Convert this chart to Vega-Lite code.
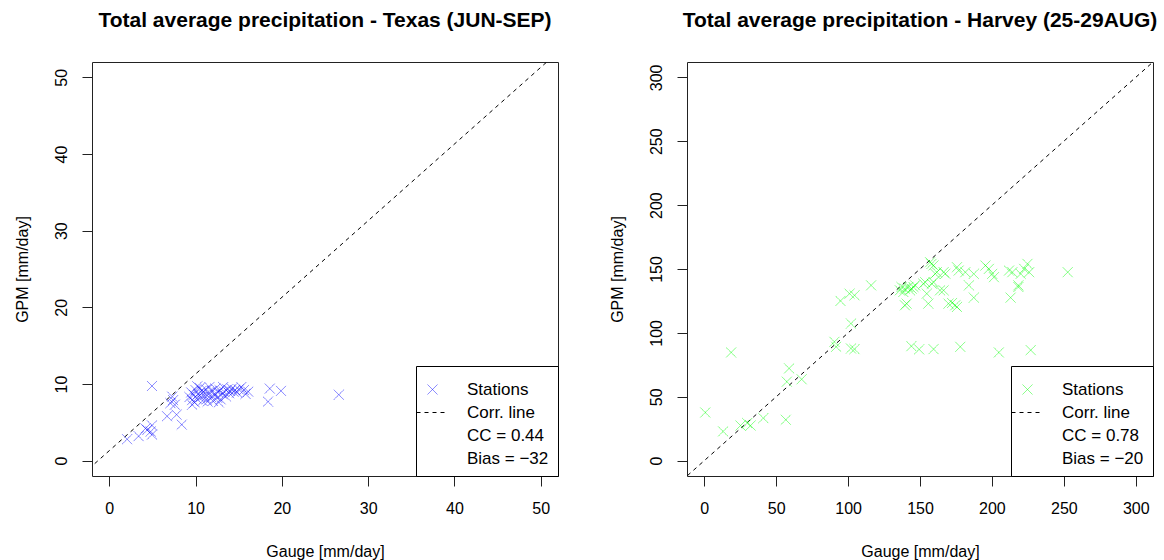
{
  "$schema": "https://vega.github.io/schema/vega-lite/v6.json",
  "background": "white",
  "padding": {"left": 13, "top": 9, "right": 5, "bottom": 5},
  "bounds": "flush",
  "spacing": 129,
  "config": {
    "font": "Liberation Sans",
    "view": {"stroke": "#222222", "strokeWidth": 1},
    "axis": {"grid": false, "domain": false, "tickColor": "#222222", "tickSize": 10, "labelFont": "Liberation Sans", "labelFontSize": 16, "labelColor": "black", "titleFont": "Liberation Sans", "titleFontSize": 16, "titleFontWeight": "normal", "titleColor": "black", "labelOverlap": false, "labelFlush": false},
    "axisY": {"labelAngle": -90, "labelAlign": "center", "labelBaseline": "bottom", "labelPadding": 13, "titlePadding": 23},
    "axisX": {"labelPadding": 14, "titlePadding": 27},
    "legend": {"orient": "bottom-right", "offset": 0, "strokeColor": "black", "fillColor": "white", "padding": 9, "labelFont": "Liberation Sans", "labelFontSize": 17, "labelColor": "black", "symbolSize": 100, "symbolStrokeWidth": 1, "labelOffset": 26, "symbolOffset": -1, "rowPadding": 5, "cornerRadius": 0, "titleFontSize": 4, "titlePadding": 2},
    "title": {"font": "Liberation Sans", "fontSize": 21, "fontWeight": "bold", "color": "black", "offset": 31}
  },
  "resolve": {"scale": {"color": "independent", "shape": "independent", "strokeDash": "independent"}, "legend": {"color": "independent", "shape": "independent", "strokeDash": "independent"}},
  "hconcat": [
    {
      "title": "Total average precipitation - Texas (JUN-SEP)",
      "width": 466,
      "height": 414,
      "layer": [
        {
          "data": {"values": [{"gauge": -10, "gpm": -8.7}, {"gauge": 60, "gpm": 61.3}]},
          "mark": {"type": "line", "color": "black", "strokeWidth": 1, "strokeDash": [4, 4], "clip": true},
          "encoding": {
            "x": {"field": "gauge", "type": "quantitative"},
            "y": {"field": "gpm", "type": "quantitative"}
          }
        },
        {
          "data": {"values": [
            {"gauge": 4.95, "gpm": 9.74, "series": "Stations"},
            {"gauge": 2.07, "gpm": 2.8, "series": "Stations"},
            {"gauge": 3.4, "gpm": 3.2, "series": "Stations"},
            {"gauge": 4.4, "gpm": 4.0, "series": "Stations"},
            {"gauge": 4.95, "gpm": 4.6, "series": "Stations"},
            {"gauge": 4.8, "gpm": 3.8, "series": "Stations"},
            {"gauge": 4.95, "gpm": 3.4, "series": "Stations"},
            {"gauge": 4.2, "gpm": 4.2, "series": "Stations"},
            {"gauge": 6.7, "gpm": 5.8, "series": "Stations"},
            {"gauge": 7.8, "gpm": 6.0, "series": "Stations"},
            {"gauge": 8.4, "gpm": 4.7, "series": "Stations"},
            {"gauge": 7.3, "gpm": 8.35, "series": "Stations"},
            {"gauge": 7.4, "gpm": 7.9, "series": "Stations"},
            {"gauge": 7.1, "gpm": 7.5, "series": "Stations"},
            {"gauge": 7.6, "gpm": 7.3, "series": "Stations"},
            {"gauge": 9.6, "gpm": 7.3, "series": "Stations"},
            {"gauge": 18.6, "gpm": 9.4, "series": "Stations"},
            {"gauge": 19.9, "gpm": 9.1, "series": "Stations"},
            {"gauge": 18.4, "gpm": 7.7, "series": "Stations"},
            {"gauge": 26.6, "gpm": 8.6, "series": "Stations"},
            {"gauge": 9.3, "gpm": 8.3, "series": "Stations"},
            {"gauge": 9.5, "gpm": 8.9, "series": "Stations"},
            {"gauge": 9.6, "gpm": 7.9, "series": "Stations"},
            {"gauge": 9.8, "gpm": 8.6, "series": "Stations"},
            {"gauge": 10.0, "gpm": 9.2, "series": "Stations"},
            {"gauge": 10.1, "gpm": 8.1, "series": "Stations"},
            {"gauge": 10.3, "gpm": 8.7, "series": "Stations"},
            {"gauge": 10.5, "gpm": 9.5, "series": "Stations"},
            {"gauge": 10.6, "gpm": 8.3, "series": "Stations"},
            {"gauge": 10.8, "gpm": 7.8, "series": "Stations"},
            {"gauge": 10.9, "gpm": 9.0, "series": "Stations"},
            {"gauge": 11.0, "gpm": 8.5, "series": "Stations"},
            {"gauge": 11.2, "gpm": 9.3, "series": "Stations"},
            {"gauge": 11.3, "gpm": 8.0, "series": "Stations"},
            {"gauge": 11.5, "gpm": 8.8, "series": "Stations"},
            {"gauge": 11.6, "gpm": 9.6, "series": "Stations"},
            {"gauge": 11.8, "gpm": 8.3, "series": "Stations"},
            {"gauge": 11.9, "gpm": 9.1, "series": "Stations"},
            {"gauge": 12.0, "gpm": 7.8, "series": "Stations"},
            {"gauge": 12.2, "gpm": 8.6, "series": "Stations"},
            {"gauge": 12.3, "gpm": 9.4, "series": "Stations"},
            {"gauge": 12.5, "gpm": 8.2, "series": "Stations"},
            {"gauge": 12.6, "gpm": 8.9, "series": "Stations"},
            {"gauge": 12.8, "gpm": 9.2, "series": "Stations"},
            {"gauge": 12.9, "gpm": 8.0, "series": "Stations"},
            {"gauge": 13.1, "gpm": 8.7, "series": "Stations"},
            {"gauge": 13.3, "gpm": 9.0, "series": "Stations"},
            {"gauge": 13.5, "gpm": 8.4, "series": "Stations"},
            {"gauge": 13.7, "gpm": 9.3, "series": "Stations"},
            {"gauge": 13.9, "gpm": 8.8, "series": "Stations"},
            {"gauge": 14.0, "gpm": 9.1, "series": "Stations"},
            {"gauge": 14.2, "gpm": 9.4, "series": "Stations"},
            {"gauge": 14.4, "gpm": 9.0, "series": "Stations"},
            {"gauge": 14.6, "gpm": 9.2, "series": "Stations"},
            {"gauge": 14.8, "gpm": 8.9, "series": "Stations"},
            {"gauge": 15.0, "gpm": 9.3, "series": "Stations"},
            {"gauge": 15.3, "gpm": 9.6, "series": "Stations"},
            {"gauge": 15.6, "gpm": 9.2, "series": "Stations"},
            {"gauge": 15.8, "gpm": 8.7, "series": "Stations"},
            {"gauge": 16.1, "gpm": 9.0, "series": "Stations"},
            {"gauge": 10.2, "gpm": 9.7, "series": "Stations"},
            {"gauge": 11.4, "gpm": 7.7, "series": "Stations"},
            {"gauge": 12.7, "gpm": 7.6, "series": "Stations"},
            {"gauge": 13.2, "gpm": 9.6, "series": "Stations"},
            {"gauge": 9.9, "gpm": 7.6, "series": "Stations"},
            {"gauge": 10.7, "gpm": 9.1, "series": "Stations"}
          ]},
          "mark": {"type": "point", "filled": false, "size": 100, "strokeWidth": 1, "opacity": 1},
          "encoding": {
            "x": {"field": "gauge", "type": "quantitative", "title": "Gauge [mm/day]", "scale": {"domain": [-2, 52], "nice": false, "zero": false}, "axis": {"values": [0, 10, 20, 30, 40, 50]}},
            "y": {"field": "gpm", "type": "quantitative", "title": "GPM [mm/day]", "scale": {"domain": [-2, 52], "nice": false, "zero": false}, "axis": {"values": [0, 10, 20, 30, 40, 50]}},
            "color": {"field": "series", "type": "nominal", "title": " ", "scale": {"domain": ["Stations", "Corr. line", "CC = 0.44", "Bias = −32"], "range": ["rgba(0,0,255,0.5)", "black", "rgba(0,0,0,0)", "rgba(0,0,0,0)"]}},
            "shape": {"field": "series", "type": "nominal", "title": " ", "scale": {"domain": ["Stations", "Corr. line", "CC = 0.44", "Bias = −32"], "range": ["M-1,-1L1,1M-1,1L1,-1", "M-3.2,0L3.2,0", "M0,0", "M0,0"]}},
            "strokeDash": {"field": "series", "type": "nominal", "title": " ", "scale": {"domain": ["Stations", "Corr. line", "CC = 0.44", "Bias = −32"], "range": [[1, 0], [4, 4], [1, 0], [1, 0]]}}
          }
        }
      ]
    },
    {
      "title": "Total average precipitation - Harvey (25-29AUG)",
      "width": 466,
      "height": 414,
      "layer": [
        {
          "data": {"values": [{"gauge": -20, "gpm": -20}, {"gauge": 330, "gpm": 330}]},
          "mark": {"type": "line", "color": "black", "strokeWidth": 1, "strokeDash": [4, 4], "clip": true},
          "encoding": {
            "x": {"field": "gauge", "type": "quantitative"},
            "y": {"field": "gpm", "type": "quantitative"}
          }
        },
        {
          "data": {"values": [
            {"gauge": 0.7, "gpm": 37.7, "series": "Stations"},
            {"gauge": 13.1, "gpm": 22.9, "series": "Stations"},
            {"gauge": 25.2, "gpm": 27.5, "series": "Stations"},
            {"gauge": 29.9, "gpm": 29.4, "series": "Stations"},
            {"gauge": 32.2, "gpm": 27.5, "series": "Stations"},
            {"gauge": 41.1, "gpm": 33.3, "series": "Stations"},
            {"gauge": 56.7, "gpm": 32.0, "series": "Stations"},
            {"gauge": 18.7, "gpm": 84.7, "series": "Stations"},
            {"gauge": 59.0, "gpm": 72.2, "series": "Stations"},
            {"gauge": 57.4, "gpm": 61.8, "series": "Stations"},
            {"gauge": 67.7, "gpm": 63.7, "series": "Stations"},
            {"gauge": 90.5, "gpm": 93.0, "series": "Stations"},
            {"gauge": 91.7, "gpm": 89.1, "series": "Stations"},
            {"gauge": 102.0, "gpm": 87.8, "series": "Stations"},
            {"gauge": 104.5, "gpm": 87.3, "series": "Stations"},
            {"gauge": 102.0, "gpm": 107.3, "series": "Stations"},
            {"gauge": 94.7, "gpm": 125.0, "series": "Stations"},
            {"gauge": 101.0, "gpm": 130.7, "series": "Stations"},
            {"gauge": 104.5, "gpm": 129.4, "series": "Stations"},
            {"gauge": 116.0, "gpm": 137.2, "series": "Stations"},
            {"gauge": 144.0, "gpm": 89.6, "series": "Stations"},
            {"gauge": 149.4, "gpm": 87.1, "series": "Stations"},
            {"gauge": 159.4, "gpm": 87.3, "series": "Stations"},
            {"gauge": 178.0, "gpm": 89.1, "series": "Stations"},
            {"gauge": 204.8, "gpm": 84.7, "series": "Stations"},
            {"gauge": 227.0, "gpm": 86.5, "series": "Stations"},
            {"gauge": 137.2, "gpm": 135.9, "series": "Stations"},
            {"gauge": 136.0, "gpm": 133.3, "series": "Stations"},
            {"gauge": 138.4, "gpm": 132.0, "series": "Stations"},
            {"gauge": 139.5, "gpm": 134.6, "series": "Stations"},
            {"gauge": 141.9, "gpm": 135.9, "series": "Stations"},
            {"gauge": 143.0, "gpm": 133.3, "series": "Stations"},
            {"gauge": 144.2, "gpm": 134.6, "series": "Stations"},
            {"gauge": 145.4, "gpm": 135.9, "series": "Stations"},
            {"gauge": 146.6, "gpm": 137.2, "series": "Stations"},
            {"gauge": 152.4, "gpm": 138.5, "series": "Stations"},
            {"gauge": 153.6, "gpm": 139.7, "series": "Stations"},
            {"gauge": 158.2, "gpm": 138.5, "series": "Stations"},
            {"gauge": 159.4, "gpm": 139.7, "series": "Stations"},
            {"gauge": 157.0, "gpm": 155.3, "series": "Stations"},
            {"gauge": 158.0, "gpm": 154.0, "series": "Stations"},
            {"gauge": 159.4, "gpm": 152.8, "series": "Stations"},
            {"gauge": 160.6, "gpm": 146.3, "series": "Stations"},
            {"gauge": 161.7, "gpm": 147.5, "series": "Stations"},
            {"gauge": 166.4, "gpm": 147.5, "series": "Stations"},
            {"gauge": 167.6, "gpm": 146.3, "series": "Stations"},
            {"gauge": 140.7, "gpm": 122.9, "series": "Stations"},
            {"gauge": 139.5, "gpm": 121.6, "series": "Stations"},
            {"gauge": 154.7, "gpm": 130.7, "series": "Stations"},
            {"gauge": 155.8, "gpm": 122.9, "series": "Stations"},
            {"gauge": 163.9, "gpm": 133.3, "series": "Stations"},
            {"gauge": 169.8, "gpm": 122.9, "series": "Stations"},
            {"gauge": 172.3, "gpm": 123.4, "series": "Stations"},
            {"gauge": 174.5, "gpm": 121.6, "series": "Stations"},
            {"gauge": 175.7, "gpm": 120.3, "series": "Stations"},
            {"gauge": 166.4, "gpm": 133.3, "series": "Stations"},
            {"gauge": 175.7, "gpm": 151.4, "series": "Stations"},
            {"gauge": 176.9, "gpm": 148.8, "series": "Stations"},
            {"gauge": 181.5, "gpm": 147.5, "series": "Stations"},
            {"gauge": 187.4, "gpm": 146.2, "series": "Stations"},
            {"gauge": 195.5, "gpm": 152.7, "series": "Stations"},
            {"gauge": 197.9, "gpm": 150.1, "series": "Stations"},
            {"gauge": 200.2, "gpm": 146.2, "series": "Stations"},
            {"gauge": 201.4, "gpm": 143.6, "series": "Stations"},
            {"gauge": 211.9, "gpm": 148.8, "series": "Stations"},
            {"gauge": 214.2, "gpm": 147.5, "series": "Stations"},
            {"gauge": 220.0, "gpm": 146.2, "series": "Stations"},
            {"gauge": 222.4, "gpm": 150.1, "series": "Stations"},
            {"gauge": 224.7, "gpm": 154.0, "series": "Stations"},
            {"gauge": 225.9, "gpm": 147.5, "series": "Stations"},
            {"gauge": 252.7, "gpm": 147.5, "series": "Stations"},
            {"gauge": 218.4, "gpm": 137.2, "series": "Stations"},
            {"gauge": 218.4, "gpm": 135.9, "series": "Stations"},
            {"gauge": 213.0, "gpm": 127.6, "series": "Stations"},
            {"gauge": 184.0, "gpm": 137.2, "series": "Stations"},
            {"gauge": 187.4, "gpm": 127.6, "series": "Stations"}
          ]},
          "mark": {"type": "point", "filled": false, "size": 100, "strokeWidth": 1, "opacity": 1},
          "encoding": {
            "x": {"field": "gauge", "type": "quantitative", "title": "Gauge [mm/day]", "scale": {"domain": [-12, 312], "nice": false, "zero": false}, "axis": {"values": [0, 50, 100, 150, 200, 250, 300]}},
            "y": {"field": "gpm", "type": "quantitative", "title": "GPM [mm/day]", "scale": {"domain": [-12, 312], "nice": false, "zero": false}, "axis": {"values": [0, 50, 100, 150, 200, 250, 300]}},
            "color": {"field": "series", "type": "nominal", "title": " ", "scale": {"domain": ["Stations", "Corr. line", "CC = 0.78", "Bias = −20"], "range": ["rgba(0,255,0,0.5)", "black", "rgba(0,0,0,0)", "rgba(0,0,0,0)"]}},
            "shape": {"field": "series", "type": "nominal", "title": " ", "scale": {"domain": ["Stations", "Corr. line", "CC = 0.78", "Bias = −20"], "range": ["M-1,-1L1,1M-1,1L1,-1", "M-3.2,0L3.2,0", "M0,0", "M0,0"]}},
            "strokeDash": {"field": "series", "type": "nominal", "title": " ", "scale": {"domain": ["Stations", "Corr. line", "CC = 0.78", "Bias = −20"], "range": [[1, 0], [4, 4], [1, 0], [1, 0]]}}
          }
        }
      ]
    }
  ]
}
